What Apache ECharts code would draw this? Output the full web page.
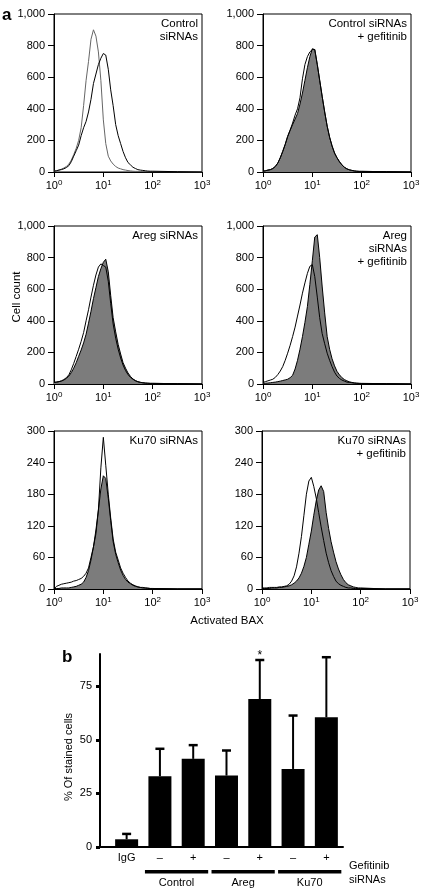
<!DOCTYPE html>
<html><head><meta charset="utf-8">
<script src="https://cdn.jsdelivr.net/npm/echarts@6/dist/echarts.min.js"></script>
<style>html,body{margin:0;padding:0;background:#fff}#c{width:422px;height:890px}</style>
</head><body><div id="c"></div>
<script>
// ---------- Data ----------
// fluorescence sample positions (activated BAX intensity)
const fluor = [1,1.12,1.26,1.41,1.58,1.78,2.00,2.24,2.51,2.82,3.16,3.55,3.98,4.47,5.01,5.62,6.31,7.08,7.94,8.91,
  10,11.2,12.6,14.1,15.8,17.8,20.0,22.4,25.1,28.2,31.6,35.5,39.8,44.7,50.1,56.2,63.1,70.8,79.4,89.1,100,316,1000];

// Panel 1: Control siRNAs (two open histograms)
const p1Left  = [5,8,12,18,25,35,50,75,110,150,200,280,420,580,700,840,900,860,760,580,330,180,100,70,50,35,25,20,15,12,9,7,5,4,4,3,3,2,2,2,2,1,0];
const p1Right = [5,8,12,15,20,28,40,65,100,135,170,230,280,320,380,460,560,620,680,720,750,740,650,520,420,300,230,180,130,90,60,45,30,22,15,12,10,8,6,5,5,2,0];
// Panel 2: Control siRNAs + gefitinib
const p2Filled = [5,8,12,15,22,35,57,90,130,175,225,265,300,335,370,430,500,580,660,730,780,775,680,580,480,380,290,220,165,120,90,65,45,30,20,14,10,7,5,4,4,2,0];
const p2Open   = [5,8,12,15,22,35,57,90,130,175,225,265,310,360,400,470,590,680,730,760,775,775,680,580,480,380,290,220,165,120,90,65,45,30,20,14,10,7,5,4,4,2,0];
// Panel 3: Areg siRNAs
const p3Filled = [10,12,15,18,25,35,50,72,100,135,175,215,260,315,385,460,540,610,680,730,770,790,710,560,420,330,250,190,135,100,70,48,32,22,15,11,8,6,5,4,4,2,0];
const p3Open   = [10,12,15,20,28,40,58,90,130,175,220,270,325,400,470,550,625,690,740,760,750,740,650,510,380,290,220,165,120,85,60,42,30,20,14,10,8,6,5,4,4,2,0];
// Panel 4: Areg siRNAs + gefitinib
const p4Filled = [5,5,6,8,10,12,15,18,22,26,30,40,55,95,150,220,300,390,490,630,780,930,945,800,620,450,300,220,160,115,80,58,40,28,20,14,10,7,5,4,4,2,0];
const p4Open   = [10,15,20,25,30,42,60,82,110,150,195,245,300,360,430,500,575,640,700,745,755,680,550,420,320,255,195,150,110,75,50,35,25,18,12,10,8,6,5,4,3,2,0];
// Panel 5: Ku70 siRNAs
const p5Filled = [1,1,1,2,2,2,2,3,4,5,7,9,13,22,35,55,80,112,150,190,215,210,172,130,90,66,50,36,26,18,13,10,7,5,4,3,2,2,1,1,1,0,0];
const p5Open   = [0,5,7,9,10,11,12,13,15,16,18,20,24,30,40,60,80,105,150,230,288,235,180,135,95,70,55,40,30,22,15,11,8,6,4,3,3,2,2,1,1,0,0];
// Panel 6: Ku70 siRNAs + gefitinib
const p6Filled = [1,1,1,1,2,2,2,3,3,4,5,6,8,11,15,21,30,43,60,85,110,140,168,188,196,185,145,115,90,70,52,38,27,18,12,8,6,4,3,2,2,0,0];
const p6Open   = [2,2,2,3,3,3,3,4,4,5,6,9,15,25,42,68,100,140,180,205,212,195,172,145,118,92,68,50,35,24,15,10,7,5,3,2,2,1,1,1,1,0,0];

const panelTitles = [['Control','siRNAs'],['Control siRNAs','+ gefitinib'],['Areg siRNAs'],['Areg','siRNAs','+ gefitinib'],['Ku70 siRNAs'],['Ku70 siRNAs','+ gefitinib']];
const countTicksLarge = [0,200,400,600,800,1000];
const countTicksSmall = [0,60,120,180,240,300];
const decadeTicks = [1,10,100,1000];
const decadeExponents = ['0','1','2','3'];
const histXName = 'Activated BAX';
const histYName = 'Cell count';

// Bar chart (b)
const barCategories = ['IgG','\u2013','+','\u2013','+','\u2013','+'];
const barMeans = [3.6,33,41.1,33.3,69,36.4,60.5];
const barUpper = [6.1,45.8,47.5,45,87.2,61.3,88.5];
const barSignif = ['','','','','*','',''];
const groupNames = ['Control','Areg','Ku70'];
const groupMembers = [[1,2],[3,4],[5,6]];
const rowLabels = ['Gefitinib','siRNAs'];
const pctTicks = [0,25,50,75];
const barYName = '% Of stained cells';

// ---------- Layout ----------
const FONT = 'Liberation Sans, Arial, Helvetica, sans-serif';
const panels = [
  {left:54, top:14, ticks:countTicksLarge, open:[p1Left,p1Right], filled:null, openColors:['#666','#000']},
  {left:263, top:14, ticks:countTicksLarge, open:[p2Open], filled:p2Filled},
  {left:54, top:226, ticks:countTicksLarge, open:[p3Open], filled:p3Filled},
  {left:263, top:226, ticks:countTicksLarge, open:[p4Open], filled:p4Filled},
  {left:54, top:431, ticks:countTicksSmall, open:[p5Open], filled:p5Filled},
  {left:262, top:431, ticks:countTicksSmall, open:[p6Open], filled:p6Filled}
];
const PW = 148, PH = 158;

const grid = [], xAxis = [], yAxis = [], series = [], graphic = [];
panels.forEach((p, i) => {
  grid.push({left:p.left, top:p.top, width:PW, height:PH, show:true, borderColor:'#000', borderWidth:1,
    backgroundColor:'transparent', containLabel:false, outerBoundsMode:'none'});
  xAxis.push({type:'log', logBase:10, gridIndex:i, min:decadeTicks[0], max:decadeTicks[decadeTicks.length-1],
    axisLine:{lineStyle:{color:'#000', width:1}},
    axisTick:{show:true, inside:false, length:5, lineStyle:{color:'#000'}},
    minorTick:{show:false}, splitLine:{show:false},
    axisLabel:{color:'#000', margin:7, fontFamily:FONT,
      formatter: v => { const k = decadeTicks.findIndex(d => Math.abs(d - v) / d < 1e-6); return '{b|10}{s|' + decadeExponents[k] + '}'; },
      rich:{b:{fontSize:11, lineHeight:14, fontFamily:FONT, color:'#000'}, s:{fontSize:8, lineHeight:8, verticalAlign:'top', fontFamily:FONT, color:'#000'}}}
  });
  const t = p.ticks;
  yAxis.push({type:'value', gridIndex:i, min:t[0], max:t[t.length-1], interval:t[1]-t[0],
    axisLine:{show:true, lineStyle:{color:'#000', width:1}},
    axisTick:{show:true, inside:false, length:6, lineStyle:{color:'#000'}},
    splitLine:{show:false},
    axisLabel:{color:'#000', fontSize:11, margin:9, fontFamily:FONT, formatter: v => v.toLocaleString('en-US')}
  });
  if (p.filled) {
    series.push({type:'line', xAxisIndex:i, yAxisIndex:i, data: fluor.map((x, k) => [x, p.filled[k]]),
      showSymbol:false, smooth:false, silent:true,
      lineStyle:{color:'#000', width:1}, areaStyle:{color:'#7c7c7c', opacity:1}, z:2});
  }
  p.open.forEach((arr, j) => {
    series.push({type:'line', xAxisIndex:i, yAxisIndex:i, data: fluor.map((x, k) => [x, arr[k]]),
      showSymbol:false, smooth:false, silent:true,
      lineStyle:{color: p.openColors ? p.openColors[j] : '#000', width:1}, z:3});
  });
  // panel title text
  panelTitles[i].forEach((line, j) => {
    graphic.push({type:'text', x:p.left + PW - 4, y:p.top + 10 + j*13,
      style:{text:line, textAlign:'right', textVerticalAlign:'middle', fontSize:11.5, fontFamily:FONT, fill:'#000'}, z:10});
  });
});

// Bar chart grid
const BI = panels.length;
grid.push({left:100, top:654, width:243, height:193, containLabel:false, outerBoundsMode:'none'});
xAxis.push({type:'value', gridIndex:BI, min:-0.8, max:6.5,
  axisLine:{show:true, onZero:false, lineStyle:{color:'#000', width:2}},
  axisTick:{show:false}, splitLine:{show:false},
  axisLabel:{show:true, customValues:barCategories.map((c, k) => k), color:'#000', fontSize:11, margin:5, fontFamily:FONT,
    formatter: v => barCategories[Math.round(v)] }
});
yAxis.push({type:'value', gridIndex:BI, min:0, max:90,
  axisLine:{show:true, onZero:false, lineStyle:{color:'#000', width:2}},
  axisTick:{show:true, inside:false, length:4, customValues:pctTicks, lineStyle:{color:'#000', width:3}},
  splitLine:{show:false},
  axisLabel:{customValues:pctTicks, color:'#000', fontSize:11, margin:8, fontFamily:FONT}
});
series.push({type:'bar', xAxisIndex:BI, yAxisIndex:BI, barWidth:23, silent:true,
  data: barMeans.map((v, k) => [k, v]), itemStyle:{color:'#000'}, z:2});
series.push({type:'custom', xAxisIndex:BI, yAxisIndex:BI, silent:true, clip:false, z:3,
  data: barMeans.map((v, k) => [k, v, barUpper[k]]),
  renderItem: (params, api) => {
    const x = api.value(0), base = api.coord([x, api.value(1)]), top = api.coord([x, api.value(2)]);
    const ch = [
      {type:'line', shape:{x1:base[0], y1:base[1], x2:top[0], y2:top[1]}, style:{stroke:'#000', lineWidth:2}},
      {type:'line', shape:{x1:top[0]-4.5, y1:top[1], x2:top[0]+4.5, y2:top[1]}, style:{stroke:'#000', lineWidth:2.5}}
    ];
    const s = barSignif[params.dataIndex];
    if (s) ch.push({type:'text', style:{text:s, x:top[0], y:top[1]+2, textAlign:'center', textVerticalAlign:'bottom', fontSize:12, fontFamily:FONT, fill:'#000'}});
    return {type:'group', children:ch};
  }
});

// static texts
graphic.push({type:'text', x:2, y:15, style:{text:'a', textVerticalAlign:'middle', fontSize:17, fontWeight:'bold', fontFamily:FONT, fill:'#000'}});
graphic.push({type:'text', x:62, y:657, style:{text:'b', textVerticalAlign:'middle', fontSize:17, fontWeight:'bold', fontFamily:FONT, fill:'#000'}});
graphic.push({type:'text', x:227, y:621, style:{text:histXName, textAlign:'center', textVerticalAlign:'middle', fontSize:11.5, fontFamily:FONT, fill:'#000'}});
graphic.push({type:'text', x:17, y:297, rotation:Math.PI/2, style:{text:histYName, textAlign:'center', textVerticalAlign:'middle', fontSize:11.5, fontFamily:FONT, fill:'#000'}});
graphic.push({type:'text', x:69, y:757, rotation:Math.PI/2, style:{text:barYName, textAlign:'center', textVerticalAlign:'middle', fontSize:11, fontFamily:FONT, fill:'#000'}});
rowLabels.forEach((t, j) => {
  graphic.push({type:'text', x:349, y:866 + j*14, style:{text:t, textAlign:'left', textVerticalAlign:'middle', fontSize:11, fontFamily:FONT, fill:'#000'}});
});

const chart = echarts.init(document.getElementById('c'), null, {renderer:'canvas'});
chart.setOption({animation:false, backgroundColor:'#fff', textStyle:{fontFamily:FONT}, grid, xAxis, yAxis, series, graphic});

// group underlines and labels, positioned through the bar chart's own axis
const extra = [];
groupNames.forEach((g, j) => {
  const m = groupMembers[j];
  const a = chart.convertToPixel({gridIndex:BI}, [m[0] - 0.45, 0]);
  const b = chart.convertToPixel({gridIndex:BI}, [m[m.length-1] + 0.45, 0]);
  extra.push({type:'rect', shape:{x:a[0], y:a[1] + 23, width:b[0]-a[0], height:3.5}, style:{fill:'#000'}});
  extra.push({type:'text', x:(a[0]+b[0])/2, y:a[1] + 36, style:{text:g, textAlign:'center', textVerticalAlign:'middle', fontSize:11, fontFamily:FONT, fill:'#000'}});
});
chart.setOption({graphic: graphic.concat(extra)});
</script>
</body></html>
